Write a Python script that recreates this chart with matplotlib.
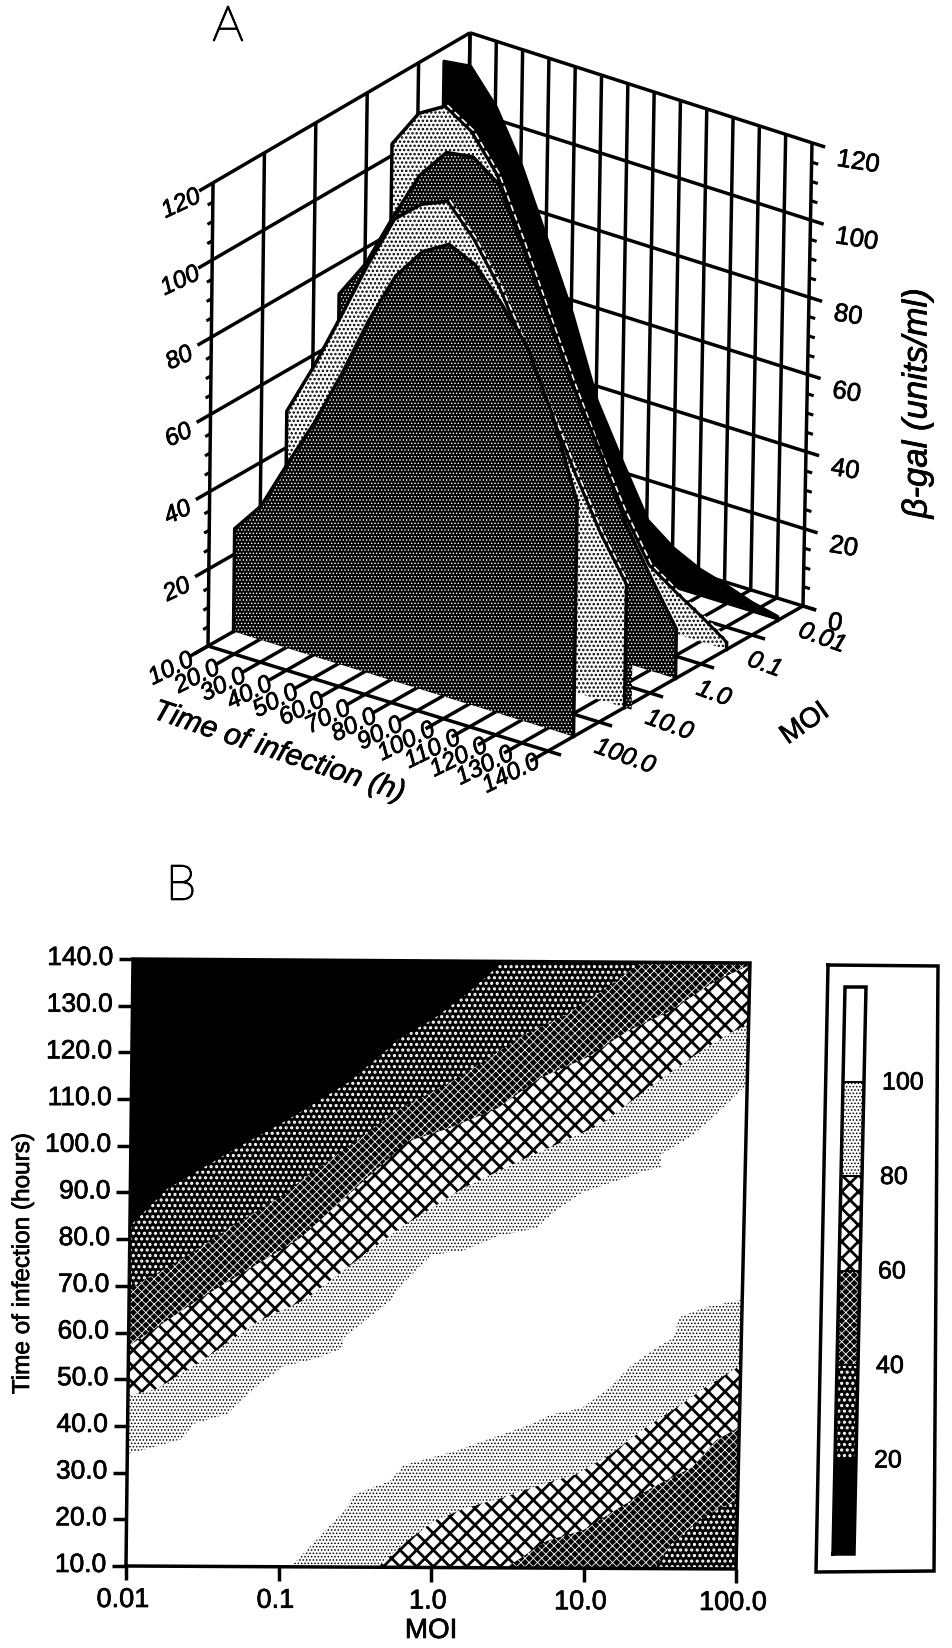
import numpy as np
import matplotlib
matplotlib.use("Agg")
import matplotlib.pyplot as plt
import matplotlib.patheffects as pe
from matplotlib.patches import Polygon

plt.rcParams["font.family"] = ["Liberation Sans", "DejaVu Sans"]
plt.rcParams["hatch.linewidth"] = 0.7

# panel A : beta-gal against time of infection, one curtain per MOI
time_h = [10, 20, 30, 40, 50, 60, 70, 80, 90, 100, 110, 120, 130, 140]
moi_labels = ["0.01", "0.1", "1.0", "10.0", "100.0"]
z_moi_001 = [116.5, 117.4, 109, 96, 79.3, 62.5, 42, 28.4, 15.4, 10.3, 7, 5, 2.6, 1]
z_moi_01 = [103, 113, 117, 112.7, 103.7, 88.4, 72, 56, 41, 27.4, 15.7, 11, 6.7, 2]
z_moi_1 = [72, 82, 96, 109, 117, 118, 113, 98, 82, 66, 52, 36, 24, 12.8]
z_moi_10 = [49.4, 63, 78, 93.5, 107.5, 113.4, 116.3, 108.8, 98.4, 85, 70.5, 56.3, 42.9, 32]
z_moi_100 = [26.6, 34.6, 47.8, 60.5, 75, 91, 104.6, 113, 117, 113.8, 106, 97, 81.5, 60.7]
z_ticks = [0, 20, 40, 60, 80, 100, 120]

# panel B : contour boundaries, log10(MOI) and time of infection
up100_u = [-2, -1.87, -1.64, -1.57, -1.35, -1.18, -0.99, -0.77, -0.6, -0.6, -0.44, -0.3, -0.23, -0.03, 0.17, 0.4, 0.65, 0.77, 0.94, 1.35, 1.45, 1.45, 1.65, 1.8, 2]
up100_t = [34, 35.1, 37.3, 40.5, 42.7, 48.1, 52.9, 54.7, 56.9, 59, 63.3, 67, 70.3, 77, 77.9, 81.1, 82.9, 86.6, 90.5, 95.3, 96, 98.8, 102.9, 107.4, 114]
up80_u = [-2, -1.9, -1.81, -1.53, -1.16, -0.93, -0.84, -0.56, -0.24, 0.17, 0.53, 1.05, 1.34, 1.68, 1.91, 2]
up80_t = [46.4, 47.3, 48, 53.8, 62.5, 66, 67.5, 74.7, 82.7, 91.4, 97.2, 105.1, 112.5, 120.7, 125.5, 126.7]
up60_u = [-2, -1.54, -0.89, -0.2, 0.07, 0.38, 0.65, 0.95, 1.22, 1.49, 1.78, 2]
up60_t = [57.1, 67.3, 80.4, 101.3, 104.2, 108.5, 115, 119.4, 125.3, 129.6, 136.1, 139.6]
up40_u = [-2, -1.63, -1.33, -1.04, -0.81, -0.51, -0.25, 0.04, 0.29, 0.54, 0.81, 1.08, 1.22, 1.3]
up40_t = [69.3, 76.3, 83, 88.9, 94.7, 101.9, 108.4, 113.4, 118.6, 124.2, 128.6, 134.6, 138.1, 140]
up20_u = [-2, -1.76, -1.34, -0.97, -0.58, -0.26, -0.04, 0.19, 0.4]
up20_t = [82.8, 90.8, 99.1, 106, 114.1, 123.4, 127.7, 133.6, 140]
low100_u = [-0.92, -0.56, -0.52, -0.28, -0.19, 0.15, 0.38, 0.63, 0.77, 0.97, 1.15, 1.27, 1.43, 1.56, 1.59, 1.76, 2]
low100_t = [10, 22.6, 25.4, 28.5, 31.9, 35, 37.8, 40.7, 42.9, 44.4, 48.8, 53.1, 57, 59.6, 63.9, 66.1, 67.8]
low80_u = [-0.35, -0.16, 0.02, 0.22, 0.46, 0.71, 0.94, 1.16, 1.39, 1.62, 1.77, 2]
low80_t = [10, 15.7, 20, 22.8, 25, 27.9, 30.1, 34.4, 40.3, 45.3, 48.9, 53.7]
low60_u = [0.49, 0.76, 0.99, 1.26, 1.44, 1.7, 1.85, 2]
low60_t = [10, 15.9, 18.1, 23.7, 27.4, 31.8, 37.6, 40.4]
low40_u = [1.47, 1.57, 1.7, 1.81, 2]
low40_t = [10, 15.2, 18.9, 21.7, 24.8]

b_time_ticks = [10, 20, 30, 40, 50, 60, 70, 80, 90, 100, 110, 120, 130, 140]
b_moi_ticks = [-2, -1, 0, 1, 2]
b_moi_labels = ["0.01", "0.1", "1.0", "10.0", "100.0"]
legend_levels = [0, 20, 40, 60, 80, 100, 120]

LW = 2.5
fig = plt.figure(figsize=(9.52, 16.49), dpi=100)
ax = fig.add_axes([0, 0, 1, 1])
ax.set_xlim(0, 952)
ax.set_ylim(1649, 0)
ax.axis("off")


# oblique projection of panel A, p is the position along the MOI axis (0 to 5)
def to_a(t, p, z):
    t = np.asarray(t, dtype=float)
    z = np.asarray(z, dtype=float)
    r = (t - 140) / 130
    lean = 0.042 + 0.0165 * (t - 10) / 130 + 0.0165 * (5 - p) / 5
    x = 803 + 340 * r - 51 * p + lean * z
    y = 607 + 105 * r + 29 * p - 3.86 * z - 5 * (-r) * (5 - p) / 5 * z / 120
    return x, y


# panel B axes are slightly skewed on the scan
def to_b(u, t):
    s = (np.asarray(u, dtype=float) + 2) / 4
    r = (np.asarray(t, dtype=float) - 10) / 130
    x = (1 - s) * (1 - r) * 126 + s * (1 - r) * 736 + (1 - s) * r * 133 + s * r * 750
    y = (1 - s) * (1 - r) * 1567 + s * (1 - r) * 1570 + (1 - s) * r * 960 + s * r * 964
    return x, y


def label(x, y, s, size=17, **kw):
    stroke = kw.pop("stroke", 0.5)
    kw.setdefault("ha", "center")
    kw.setdefault("va", "center")
    return ax.text(x, y, s, fontsize=size, zorder=8,
                   path_effects=[pe.withStroke(linewidth=stroke, foreground="black")], **kw)


def hatch_poly(x, y, face, hatch=None, edge="black", hatch_lw=None, zorder=3):
    pts = np.column_stack([x, y])
    if hatch:
        poly = Polygon(pts, closed=True, facecolor=face, edgecolor=edge, hatch=hatch, lw=0, zorder=zorder)
        if hatch_lw is not None and hasattr(poly, "set_hatch_linewidth"):
            poly.set_hatch_linewidth(hatch_lw)
    else:
        poly = Polygon(pts, closed=True, facecolor=face, edgecolor="none", lw=0, zorder=zorder)
    ax.add_patch(poly)


def seg(x, y, lw=LW, zorder=2):
    ax.plot(x, y, color="black", lw=lw, zorder=zorder, solid_capstyle="butt")


# walls and floor of panel A
for z in z_ticks:
    if z > 0:
        seg(*to_a(10, np.array([5.0, 0.0]), z))
        seg(*to_a(np.array([10, 140]), 0.0, z))
    seg(*to_a(10, np.array([5.0, 5.27]), z))
    seg(*to_a(np.array([140, 145]), 0.0, z))
for z in range(5, 120, 5):
    if z % 20:
        seg(*to_a(10, np.array([5.0, 5.1]), z), lw=LW * 0.9)
        seg(*to_a(np.array([140, 142.5]), 0.0, z), lw=LW * 0.9)
for p in range(6):
    seg(*to_a(10, float(p), np.array([0, 120])))
    seg(*to_a(np.array([10, 145]), float(p), 0))
for t in time_h:
    seg(*to_a(float(t), 0.0, np.array([0, 120])))
    a0, b0 = to_a(float(t), 0.0, 0)
    a1, b1 = to_a(float(t), 5.35, 0)
    seg([a0, a1], [b0, b1])

# curtains, back to front
curtains = [
    (0.5, z_moi_001, "black", None, "black", None, False),
    (1.5, z_moi_01, "white", "....", "black", 1.2, True),
    (2.5, z_moi_1, "black", ".....", "white", 0.6, False),
    (3.5, z_moi_10, "white", "....", "black", 1.2, True),
    (4.5, z_moi_100, "black", ".....", "white", 0.6, False),
]
for n, (p, vals, face, hatch, edge, hlw, dashed) in enumerate(curtains):
    tt = np.array(time_h, dtype=float)
    x, y = to_a(tt, p, np.array(vals))
    x0, y0 = to_a(tt[[-1, 0]], p, 0)
    zo = 3 + n
    # the light curtain shows a dotted side strip at its far end
    if p == 3.5:
        xs, ys = to_a(np.array([140.0, 142.7, 142.7, 140.0]), p, np.array([vals[-1], vals[-1], 0, 0]))
        hatch_poly(xs, ys, "black", ".....", "white", 0.6, zorder=zo)
    hatch_poly(np.r_[x, x0], np.r_[y, y0], face, hatch, edge, hlw, zorder=zo)
    ax.plot(np.r_[x0[1], x, x0[0]], np.r_[y0[1], y, y0[0]], color="black", lw=LW,
            zorder=zo, solid_joinstyle="round")
    if dashed:
        k = int(np.argmax(vals))
        ax.plot(x[k:] + 2.0, y[k:] - 1.0, color="white", lw=1.2, ls=(0, (4, 2)), zorder=zo)

# panel A labels
for z in z_ticks:
    if z > 0:
        x, y = to_a(10, 5.0, z)
        label(x - 32, y + 21, str(z), 17.5, style="italic", rotation=25)
    x, y = to_a(140, 0.0, z)
    label(x + 25, y + 16, str(z), 18.5, rotation=-9, ha="left", rotation_mode="anchor")
for t in time_h:
    x, y = to_a(float(t), 5.0, 0)
    label(x - 37, y + 23, "%.1f" % t, 17.5, style="italic", rotation=26)
for i, lab in enumerate(moi_labels):
    x, y = to_a(140, i + 0.5, 0)
    label(x + 22, y + 9, lab, 18, style="italic", rotation=-20, ha="left", rotation_mode="anchor")
label(279, 753, "Time of infection (h)", 21.5, style="italic", rotation=-18.5)
label(805, 725, "MOI", 20, rotation=35)
label(917, 404, "\u03b2-gal (units/ml)", 25, style="italic", rotation=90)
label(228, 28, "A", 35, family="Lato", weight="light", stroke=1.2)
label(181, 887, "B", 35, family="Lato", weight="light", stroke=1.2)

# contour bands of panel B
band_light = dict(face="white", hatch=".....", edge="black", hatch_lw=0.7)
band_cross = dict(face="white", hatch="xx", edge="black", hatch_lw=2.0)
band_dark = dict(face="black", hatch="xxxx", edge="white", hatch_lw=0.6)
band_dots = dict(face="black", hatch="...", edge="white", hatch_lw=1.5)
band_black = dict(face="black")


def band_above(u, t, style):
    x, y = to_b(u, t)
    cu = [-2.0] if t[-1] >= 140 else [2.0, -2.0]
    cx, cy = to_b(cu, [140.0] * len(cu))
    hatch_poly(np.r_[x, cx], np.r_[y, cy], zorder=3, **style)


def band_below(u, t, style):
    x, y = to_b(u, t)
    cx, cy = to_b([2.0], [10.0])
    hatch_poly(np.r_[x, cx], np.r_[y, cy], zorder=3, **style)


band_above(up100_u, up100_t, band_light)
band_above(up80_u, up80_t, band_cross)
band_above(up60_u, up60_t, band_dark)
band_above(up40_u, up40_t, band_dots)
band_above(up20_u, up20_t, band_black)
band_below(low100_u, low100_t, band_light)
band_below(low80_u, low80_t, band_cross)
band_below(low60_u, low60_t, band_dark)
band_below(low40_u, low40_t, band_dots)

# panel B frame and ticks
fx, fy = to_b([-2, 2, 2, -2, -2], [10, 10, 140, 140, 10])
ax.plot(fx, fy, color="black", lw=LW, zorder=5, solid_joinstyle="miter")
for t in b_time_ticks:
    x, y = to_b(-2, t)
    seg([x, x - 14], [y, y], zorder=5)
    label(x - 20, y - 1, "%.1f" % t, 19, ha="right")
for u, lab in zip(b_moi_ticks, b_moi_labels):
    x, y = to_b(u, 10)
    seg([x, x], [y, y + 14], zorder=5)
    label(x - 3, y + 34, lab, 19.5)
label(431, 1632, "MOI", 20)
label(23, 1265, "Time of infection (hours)", 17.5, rotation=90)

# legend
box_x = [828, 938, 934, 816, 828]
box_y = [966, 967, 1572, 1573, 966]
ax.plot(box_x, box_y, color="black", lw=LW, zorder=5, solid_joinstyle="miter")


def legend_xy(level, side):
    y = 1555 - level * (1555 - 988) / 120
    x = 833 + (1555 - y) * (845 - 833) / (1555 - 988) + side * 21
    return x, y


legend_styles = [band_black, band_dots, band_dark, band_cross, band_light, dict(face="white")]
for lev0, lev1, st in zip(legend_levels[:-1], legend_levels[1:], legend_styles):
    corners = [legend_xy(lev0, 0), legend_xy(lev0, 1), legend_xy(lev1, 1), legend_xy(lev1, 0)]
    hatch_poly(np.array([c[0] for c in corners]), np.array([c[1] for c in corners]), zorder=3, **st)
    xa, ya = legend_xy(lev1, 0)
    xb, yb = legend_xy(lev1, 1)
    ax.plot([xa, xb], [ya, yb], color="black", lw=1.5, zorder=5)
    if lev1 < 120:
        label(xb + 18, yb + 1, str(lev1), 18, ha="left")
oc = [legend_xy(0, 0), legend_xy(0, 1), legend_xy(120, 1), legend_xy(120, 0), legend_xy(0, 0)]
ax.plot([c[0] for c in oc], [c[1] for c in oc], color="black", lw=LW, zorder=5, solid_joinstyle="miter")

fig.savefig("out.png", dpi=100)
